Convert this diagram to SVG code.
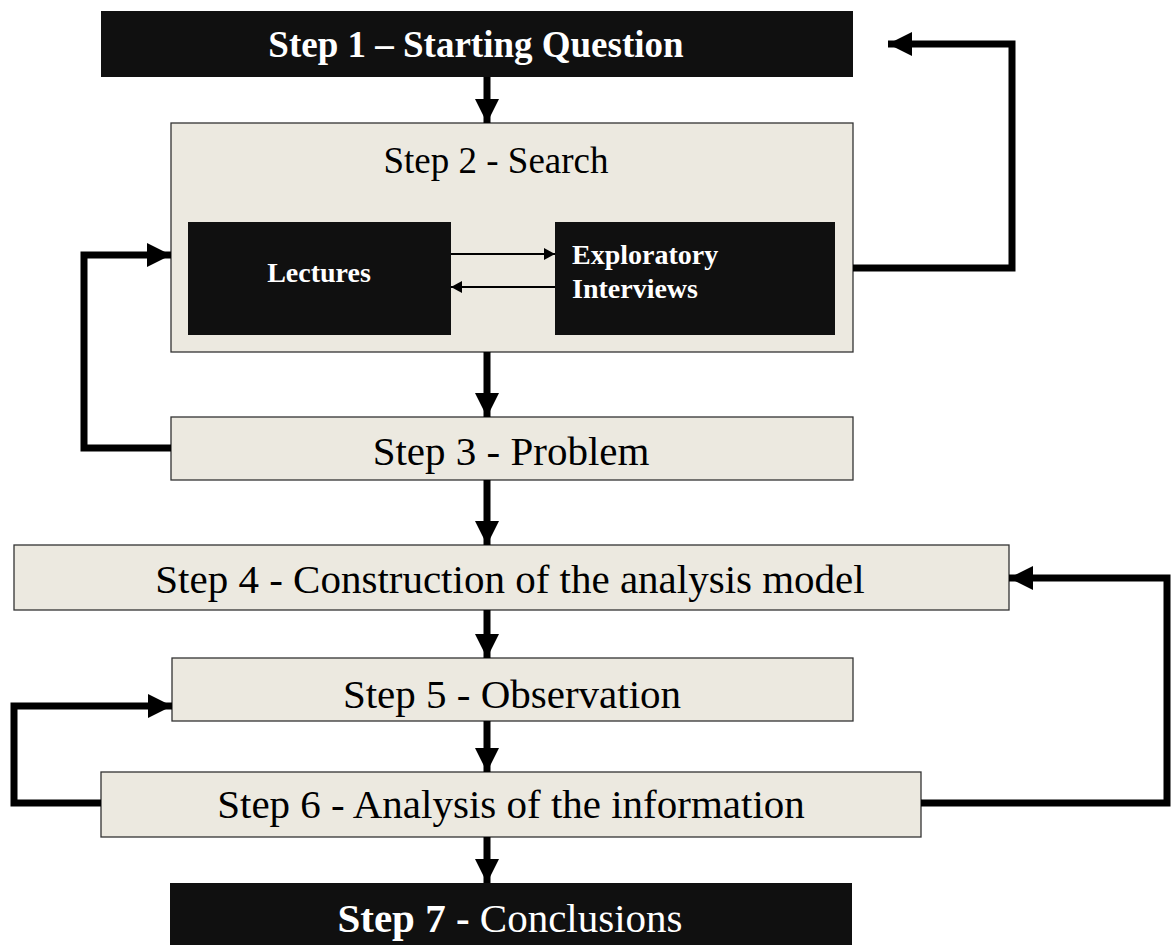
<svg xmlns="http://www.w3.org/2000/svg" width="1172" height="945" viewBox="0 0 1172 945">
<style>
.dark{fill:#101010}
.light{fill:#ECE9E0;stroke:#333;stroke-width:1.3}
.t{font-family:"Liberation Serif",serif;fill:#000;text-anchor:middle}
.tw{font-family:"Liberation Serif",serif;fill:#fff;font-weight:bold}
.thick{fill:none;stroke:#000;stroke-width:7;stroke-linejoin:miter}
.thin{fill:none;stroke:#000;stroke-width:2}
</style>
<defs>
<marker id="big" markerUnits="userSpaceOnUse" markerWidth="26" markerHeight="24" refX="24" refY="12" orient="auto"><path d="M0,0 L24,12 L0,24 Z" fill="#000"/></marker>
<marker id="small" markerUnits="userSpaceOnUse" markerWidth="12" markerHeight="12" refX="11" refY="6" orient="auto"><path d="M0,0 L11,6 L0,12 Z" fill="#000"/></marker>
</defs>
<rect width="1172" height="945" fill="#fff"/>
<g id="step1"><rect class="dark" x="101" y="11" width="752" height="66"/><text class="tw" x="476" y="57" font-size="37" text-anchor="middle">Step 1 – Starting Question</text></g>
<g id="step2"><rect class="light" x="171" y="123" width="682" height="229"/><text class="t" x="496" y="173" font-size="37">Step 2 - Search</text></g>
<g id="lectures"><rect class="dark" x="188" y="222" width="263" height="113"/><text class="tw" x="319" y="282" font-size="28" text-anchor="middle">Lectures</text></g>
<g id="exploratory"><rect class="dark" x="555" y="222" width="280" height="113"/><text class="tw" x="572" y="264" font-size="28">Exploratory</text><text class="tw" x="572" y="298" font-size="28">Interviews</text></g>
<g id="step3"><rect class="light" x="171" y="417" width="682" height="63"/><text class="t" x="511" y="465" font-size="41">Step 3 - Problem</text></g>
<g id="step4"><rect class="light" x="14" y="545" width="995" height="65"/><text class="t" x="510" y="593" font-size="41">Step 4 - Construction of the analysis model</text></g>
<g id="step5"><rect class="light" x="172" y="658" width="681" height="63"/><text class="t" x="512" y="708" font-size="41">Step 5 - Observation</text></g>
<g id="step6"><rect class="light" x="101" y="772" width="820" height="65"/><text class="t" x="511" y="818" font-size="41">Step 6 - Analysis of the information</text></g>
<g id="step7"><rect class="dark" x="170" y="883" width="682" height="62"/><text class="t" x="510" y="932" font-size="41" style="fill:#fff"><tspan font-weight="bold">Step 7 -</tspan> Conclusions</text></g>
<g id="connectors">
<path class="thick" d="M487,77 V123" marker-end="url(#big)"/>
<path class="thick" d="M487,352 V417" marker-end="url(#big)"/>
<path class="thick" d="M487,480 V545" marker-end="url(#big)"/>
<path class="thick" d="M487,610 V658" marker-end="url(#big)"/>
<path class="thick" d="M487,721 V772" marker-end="url(#big)"/>
<path class="thick" d="M487,837 V883" marker-end="url(#big)"/>
<path class="thin" d="M451,254 H555" marker-end="url(#small)"/>
<path class="thin" d="M555,287 H451" marker-end="url(#small)"/>
<path class="thick" d="M853,268 H1012 V44 H888" marker-end="url(#big)"/>
<path class="thick" d="M171,448 H84 V255 H171" marker-end="url(#big)"/>
<path class="thick" d="M921,803 H1167 V578 H1009" marker-end="url(#big)"/>
<path class="thick" d="M101,803 H14 V706 H172" marker-end="url(#big)"/>
</g>
</svg>
